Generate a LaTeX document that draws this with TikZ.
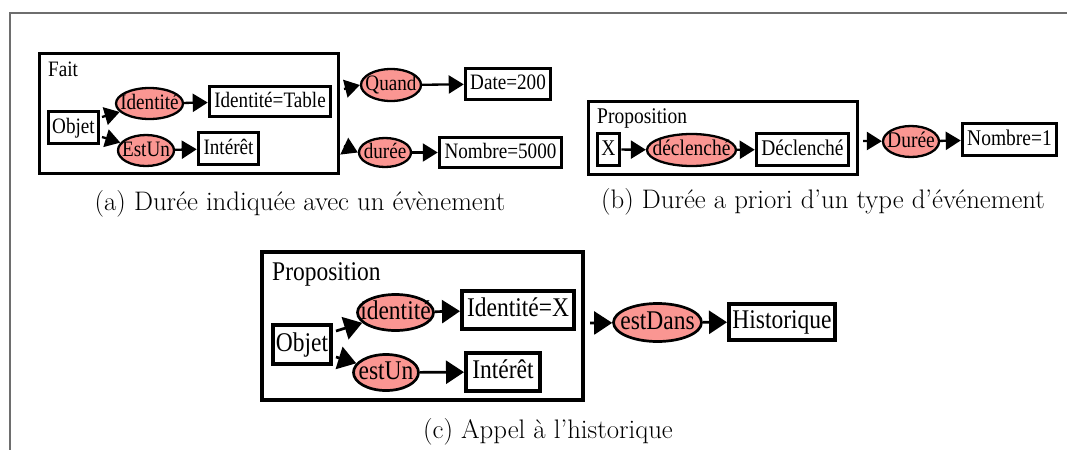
\documentclass[tikz,border=0pt]{standalone}
\usepackage{fontspec}
\newfontfamily\tms[FakeStretch=0.87]{Liberation Serif}
\usetikzlibrary{shapes.geometric,arrows.meta}
\definecolor{ellfill}{RGB}{250,150,146}
\definecolor{framegray}{RGB}{110,110,110}
\tikzset{
  wh/.style 2 args={minimum width=#1pt, minimum height=#2pt},
  fa/.style={font=\tms\fontsize{22}{22}\selectfont, text height=15.4pt, text depth=4.4pt},
  fb/.style={font=\tms\fontsize{22.4}{22.4}\selectfont, text height=15.7pt, text depth=4.5pt},
  fc/.style={font=\tms\fontsize{27}{27}\selectfont, text height=18.9pt, text depth=5.4pt},
  rbox/.style={draw, line width=3.5pt, fill=white, inner sep=0pt},
  rboxc/.style={draw, line width=4pt, fill=white, inner sep=0pt},
  ebox/.style={ellipse, draw, line width=2.3pt, fill=ellfill, inner sep=0pt},
  eboxc/.style={ellipse, draw, line width=2.7pt, fill=ellfill, inner sep=0pt},
  frm/.style={draw, line width=3pt, inner sep=0pt},
  frmc/.style={draw, line width=3.5pt, inner sep=0pt},
  arr/.style={line width=2.3pt, -{Triangle[length=15pt,width=18pt]}},
  arrc/.style={line width=2.7pt, -{Triangle[length=18pt,width=23pt]}},
  capt/.style={font=\fontsize{26.8}{26.8}\selectfont, anchor=base, inner sep=0pt},
  lbl/.style={anchor=base west, inner sep=0pt},
}
\begin{document}
\begin{tikzpicture}[x=1pt,y=-1pt]
\useasboundingbox (0,0) rectangle (1067,450);
\draw[framegray, line width=1.5pt] (1067,13) -- (10,13) -- (10,450);

% ---------- (a) ----------
\node[frm, wh={299}{120}] (faitA) at (189,113.5) {};
\node[lbl, fa] (faitL) at (48,76) {Fait};
\node[rbox, fa, wh={50}{32}] (objetA) at (73.5,127.5) {Objet};
\node[ebox, fa, wh={67}{31}] (idA) at (149.5,103.5) {\makebox[0pt]{Identité}};
\node[rbox, fa, wh={121}{30}] (idTabA) at (270,101.5) {Identité=Table};
\node[ebox, fa, wh={56}{31}] (estunA) at (146,150.5) {\makebox[0pt]{EstUn}};
\node[rbox, fa, wh={60}{32}] (interetA) at (228.5,148.5) {Intérêt};
\node[ebox, fa, wh={60}{32}] (quandA) at (391,85) {\makebox[0pt]{Quand}};
\node[rbox, fa, wh={85}{31}] (dateA) at (508,84) {Date=200};
\node[ebox, fa, wh={52}{29}] (dureeA) at (385,152.5) {\makebox[0pt]{durée}};
\node[rbox, fa, wh={122}{30}] (nombreA) at (500.5,152.5) {Nombre=5000};
\coordinate (oA1) at (102,117);
\coordinate (oA2) at (102,137);
\coordinate (qA) at (344,89);
\coordinate (dA) at (344,146);
\draw[arr] (oA1) -- (idA);
\draw[arr] (oA2) -- (estunA);
\draw[arr] (idA) -- (idTabA);
\draw[arr] (estunA) -- (interetA);
\draw[arr] (qA) -- (quandA.west);
\draw[arr] (dA) -- (dureeA.west);
\draw[arr] (quandA) -- (dateA);
\draw[arr] (dureeA) -- (nombreA);
\node[capt] (capA) at (300,210) {(a) Durée indiquée avec un évènement};

% ---------- (b) ----------
\node[frm, wh={269}{73}] (propB) at (723,138) {};
\node[lbl, fb] (propBL) at (597,123) {Proposition};
\node[rbox, fb, wh={22}{32}] (xB) at (608.5,149.5) {X};
\node[ebox, fb, wh={89}{32}] (declB) at (691.5,150) {\makebox[0pt]{déclenché}};
\node[rbox, fb, wh={92}{32}] (DeclB) at (802.5,149.5) {Déclenché};
\node[ebox, fb, wh={56}{31}] (dureeB) at (911,141.5) {\makebox[0pt]{Durée}};
\node[rbox, fb, wh={94}{32}] (nombreB) at (1009.5,139.5) {Nombre=1};
\coordinate (pB) at (863,141);
\draw[arr] (xB) -- (declB);
\draw[arr] (declB) -- (DeclB);
\draw[arr] (pB) -- (dureeB);
\draw[arr] (dureeB) -- (nombreB);
\node[capt] (capB) at (823,208) {(b) Durée a priori d’un type d’événement};

% ---------- (c) ----------
\node[frmc, wh={321}{148}] (propC) at (422.5,326) {};
\node[lbl, fc] (propCL) at (272,280) {Proposition};
\node[rboxc, fc, wh={58}{39}] (objetC) at (302,344.5) {Objet};
\node[eboxc, fc, wh={76}{36}] (idC) at (395.5,312.5) {\makebox[0pt]{identité}};
\node[rboxc, fc, wh={112}{38}] (idXC) at (518,310) {Identité=X};
\node[eboxc, fc, wh={65}{36}] (estunC) at (386,372.5) {\makebox[0pt]{estUn}};
\node[rboxc, fc, wh={74}{38}] (interetC) at (503,372) {Intérêt};
\node[eboxc, fc, wh={88}{38}] (estDansC) at (657.5,322.5) {\makebox[0pt]{estDans}};
\node[rboxc, fc, wh={106}{36}] (histC) at (782,322) {Historique};
\coordinate (oC1) at (336,331);
\coordinate (oC2) at (336,357);
\coordinate (pC) at (590,323);
\draw[arrc] (oC1) -- (idC);
\draw[arrc] (oC2) -- (estunC);
\draw[arrc] (idC) -- (idXC);
\draw[arrc] (estunC) -- (interetC);
\draw[arrc] (pC) -- (estDansC);
\draw[arrc] (estDansC) -- (histC);
\node[capt] (capC) at (548,438) {(c) Appel à l’historique};
\end{tikzpicture}
\end{document}
